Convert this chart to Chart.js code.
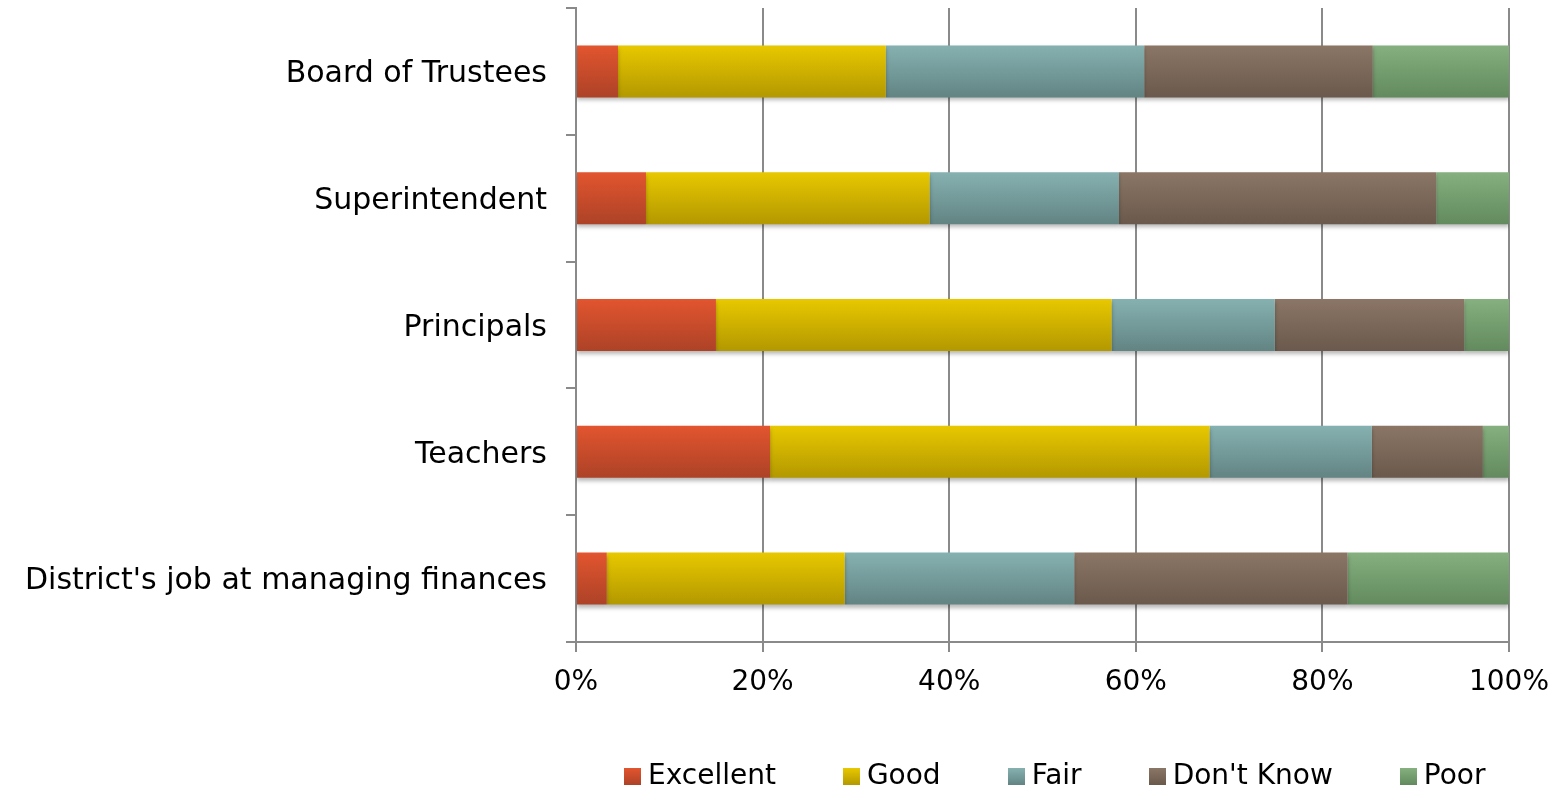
<!DOCTYPE html>
<html>
<head>
<meta charset="utf-8">
<script src="https://cdn.jsdelivr.net/npm/chart.js@4"></script>
<style>
  html, body { margin: 0; padding: 0; background: #ffffff; }
  #wrap { width: 1552px; height: 789px; position: relative; overflow: hidden; }
  #legend {
    position: absolute; left: 624px; top: 761px; height: 27px;
    display: flex; align-items: center; gap: 67px;
    font-family: 'DejaVu Sans', sans-serif; font-size: 28px; color: #000;
    white-space: nowrap;
  }
  #legend .item { display: flex; align-items: center; }
  #legend .box { width: 17px; height: 17px; margin-right: 7px; margin-top: 4px; }
</style>
</head>
<body>
<div id="wrap">
  <canvas id="c" width="1552" height="789"></canvas>
  <div id="legend"></div>
</div>
<script>
const categories = ["Board of Trustees", "Superintendent", "Principals", "Teachers", "District's job at managing finances"];
const seriesNames = ["Excellent", "Good", "Fair", "Don't Know", "Poor"];
const excellent = [4.5, 7.5, 15.0, 20.8, 3.3];
const good      = [28.7, 30.4, 42.4, 47.1, 25.5];
const fair      = [27.7, 20.3, 17.5, 17.4, 24.6];
const dontKnow  = [24.5, 34.0, 20.3, 11.9, 29.3];
const poor      = [14.6, 7.8, 4.8, 2.8, 17.3];
const xTicks = [0, 20, 40, 60, 80, 100];

const topColors    = ["#e2552f", "#e8c800", "#86b1b1", "#8b7666", "#86b07f"];
const bottomColors = ["#ad4227", "#b39800", "#628483", "#6a594c", "#628a5e"];
const midColors    = ["#d04c2b", "#d2b500", "#759d9d", "#7c695a", "#76a06f"];

const FONT = "'DejaVu Sans', sans-serif";
const BAR_FRAC = 0.41;

function gradFor(i) {
  return function(ctx) {
    const chart = ctx.chart;
    const y = chart.scales && chart.scales.y;
    if (ctx.dataIndex === undefined || !y || y.top === undefined) return midColors[i];
    const center = y.getPixelForValue(ctx.dataIndex);
    const half = (y.height / categories.length) * BAR_FRAC / 2;
    const g = chart.ctx.createLinearGradient(0, center - half, 0, center + half);
    g.addColorStop(0, topColors[i]);
    g.addColorStop(1, bottomColors[i]);
    return g;
  };
}

const allSeries = [excellent, good, fair, dontKnow, poor];
const datasets = allSeries.map((d, i) => ({
  label: seriesNames[i],
  data: d,
  backgroundColor: gradFor(i),
  borderWidth: 0,
  categoryPercentage: 1.0,
  barPercentage: BAR_FRAC
}));

const shadowPlugin = {
  id: 'barShadow',
  beforeDatasetsDraw(chart) {
    const c = chart.ctx;
    c.save();
    c.shadowColor = 'rgba(0,0,0,0.28)';
    c.shadowBlur = 4;
    c.shadowOffsetY = 3;
  },
  afterDatasetsDraw(chart) {
    chart.ctx.restore();
  }
};

const chart = new Chart(document.getElementById('c'), {
  type: 'bar',
  data: { labels: categories, datasets },
  plugins: [shadowPlugin],
  options: {
    indexAxis: 'y',
    responsive: false,
    animation: false,
    devicePixelRatio: 1,
    layout: { padding: { top: 8, left: 0, right: 0, bottom: 87 } },
    plugins: {
      tooltip: { enabled: false },
      legend: { display: false }
    },
    scales: {
      x: {
        stacked: true,
        min: 0,
        max: 100,
        afterBuildTicks(scale) { scale.ticks = xTicks.map(v => ({ value: v })); },
        afterFit(scale) { scale.height = 60; scale.paddingLeft = 0; scale.paddingRight = 43; },
        ticks: {
          callback: v => v + '%',
          font: { family: FONT, size: 28 },
          color: '#000000',
          padding: 14,
          maxRotation: 0
        },
        grid: { color: '#8a8a8a', lineWidth: 2, tickLength: 10, drawTicks: true },
        border: { color: '#8a8a8a', width: 2 }
      },
      y: {
        stacked: true,
        afterFit(scale) { scale.width = 576; scale.paddingTop = 0; scale.paddingBottom = 0; },
        ticks: {
          font: { family: FONT, size: 30 },
          color: '#000000',
          padding: 19,
          labelOffset: 3
        },
        grid: { drawOnChartArea: false, drawTicks: true, tickLength: 10, color: '#8a8a8a', lineWidth: 2, offset: true },
        border: { color: '#8a8a8a', width: 2 }
      }
    }
  }
});

// HTML legend built from the chart's datasets
const legendEl = document.getElementById('legend');
chart.data.datasets.forEach((ds, i) => {
  const item = document.createElement('div');
  item.className = 'item';
  const box = document.createElement('span');
  box.className = 'box';
  box.style.background = 'linear-gradient(' + topColors[i] + ', ' + bottomColors[i] + ')';
  const txt = document.createElement('span');
  txt.textContent = ds.label;
  item.appendChild(box);
  item.appendChild(txt);
  legendEl.appendChild(item);
});
</script>
</body>
</html>
